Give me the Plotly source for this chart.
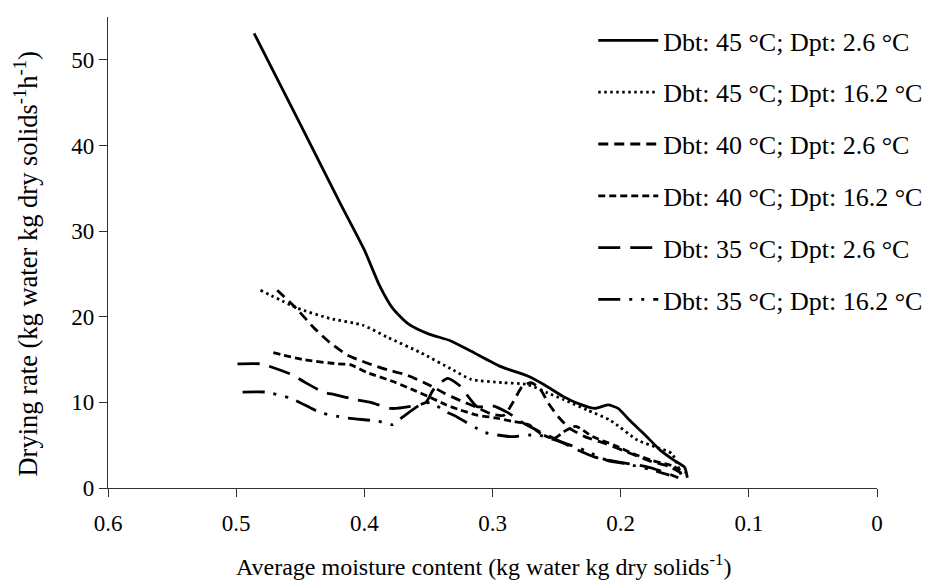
import plotly.graph_objects as go

# ---- data ----
labels = [
    "Dbt: 45 °C; Dpt: 2.6 °C",
    "Dbt: 45 °C; Dpt: 16.2 °C",
    "Dbt: 40 °C; Dpt: 2.6 °C",
    "Dbt: 40 °C; Dpt: 16.2 °C",
    "Dbt: 35 °C; Dpt: 2.6 °C",
    "Dbt: 35 °C; Dpt: 16.2 °C",
]

s1_x = [0.486, 0.450, 0.419, 0.400, 0.388, 0.378, 0.366, 0.350, 0.333, 0.317, 0.294, 0.273, 0.259, 0.245,
        0.232, 0.220, 0.210, 0.202, 0.193, 0.181, 0.169, 0.158, 0.150, 0.148]
s1_y = [53.1, 42.5, 33.3, 27.8, 23.6, 21.0, 19.2, 18.0, 17.2, 16.0, 14.2, 13.1, 12.0, 10.7,
        9.8, 9.3, 9.7, 9.3, 7.9, 6.2, 4.4, 3.2, 2.4, 1.2]

s2_x = [0.481, 0.452, 0.427, 0.401, 0.382, 0.356, 0.331, 0.317, 0.292, 0.273, 0.257, 0.244, 0.226,
        0.208, 0.187, 0.173, 0.160, 0.152]
s2_y = [23.1, 21.0, 19.8, 19.0, 17.6, 15.8, 13.8, 12.7, 12.3, 12.1, 11.1, 10.3, 9.1,
        7.9, 5.6, 4.8, 4.0, 1.2]

s3_x = [0.468, 0.452, 0.440, 0.427, 0.413, 0.398, 0.382, 0.367, 0.349, 0.338, 0.325, 0.312, 0.300,
        0.291, 0.284, 0.277, 0.270, 0.263, 0.256, 0.248, 0.240, 0.228, 0.212, 0.195, 0.178, 0.162, 0.150]
s3_y = [23.1, 20.8, 18.8, 17.0, 15.5, 14.6, 13.8, 13.2, 12.0, 11.1, 10.2, 9.4, 8.6,
        8.5, 10.0, 11.8, 12.3, 11.6, 9.8, 8.2, 7.0, 6.0, 5.2, 4.2, 3.2, 2.5, 1.5]

s4_x = [0.471, 0.448, 0.421, 0.411, 0.398, 0.377, 0.361, 0.349, 0.336, 0.325, 0.312, 0.298, 0.285,
        0.272, 0.262, 0.252, 0.243, 0.235, 0.222, 0.205, 0.190, 0.175, 0.160, 0.150]
s4_y = [15.8, 15.0, 14.5, 14.4, 13.5, 12.4, 11.4, 10.6, 9.7, 9.1, 8.5, 8.2, 7.8,
        7.4, 6.3, 5.8, 6.7, 7.2, 6.0, 5.0, 4.0, 3.2, 2.6, 1.8]

s5_x = [0.499, 0.481, 0.472, 0.456, 0.447, 0.432, 0.423, 0.406, 0.395, 0.380, 0.365, 0.352, 0.346,
        0.335, 0.326, 0.318, 0.312, 0.300, 0.288, 0.275, 0.262, 0.248, 0.236, 0.220, 0.200, 0.180, 0.165, 0.155]
s5_y = [14.5, 14.5, 14.1, 13.2, 12.4, 11.2, 10.9, 10.3, 10.0, 9.3, 9.5, 10.0, 11.5,
        12.8, 12.0, 10.5, 9.5, 9.6, 8.8, 7.5, 6.5, 5.5, 4.6, 3.6, 3.0, 2.5, 1.8, 1.2]

s6_x = [0.495, 0.477, 0.458, 0.434, 0.415, 0.389, 0.378, 0.370, 0.354, 0.346, 0.339, 0.329, 0.306,
        0.286, 0.265, 0.245, 0.228, 0.210, 0.195, 0.178, 0.162]
s6_y = [11.2, 11.2, 10.5, 8.8, 8.2, 7.8, 7.4, 8.3, 9.9, 9.9, 9.1, 8.4, 6.5,
        6.0, 6.2, 5.3, 4.4, 3.2, 2.8, 2.2, 1.5]

x_tickvals = [0.6, 0.5, 0.4, 0.3, 0.2, 0.1, 0.0]
x_ticktext = ["0.6", "0.5", "0.4", "0.3", "0.2", "0.1", "0"]
y_tickvals = [0, 10, 20, 30, 40, 50]
y_ticktext = ["0", "10", "20", "30", "40", "50"]

x_title = "Average moisture content (kg water kg dry solids<sup>-1</sup>)"
y_title = "Drying rate (kg water kg dry solids<sup>-1</sup>h<sup>-1</sup>)"

# ---- styling ----
FONT = "Liberation Serif, Times New Roman, serif"
series = [
    (s1_x, s1_y, "solid", 2.8),
    (s2_x, s2_y, "2.5px,3.5px", 2.8),
    (s3_x, s3_y, "10px,6px", 2.8),
    (s4_x, s4_y, "7px,4px", 2.8),
    (s5_x, s5_y, "22px,10px", 2.8),
    (s6_x, s6_y, "22px,9px,3px,9px,3px,9px", 2.8),
]

fig = go.Figure()
for i, (xs, ys, dash, w) in enumerate(series):
    fig.add_trace(go.Scatter(
        x=xs, y=ys, mode="lines", name=labels[i], legendgroup=f"g{i}",
        line=dict(color="black", width=w, dash=dash, shape="spline", smoothing=0.6),
    ))

# page body adds an 8px margin, so the figure is laid out 8px smaller
fig.update_layout(
    width=929, height=573,
    margin=dict(l=100, r=60, t=9, b=93),
    paper_bgcolor="white", plot_bgcolor="white",
    font=dict(family=FONT, size=23, color="black"),
    showlegend=True,
    legend=dict(
        x=0.631, y=1.0, xanchor="left", yanchor="top",
        bgcolor="rgba(0,0,0,0)", font=dict(family=FONT, size=26, color="black"),
        tracegroupgap=15, itemwidth=60, maxheight=1,
    ),
    xaxis=dict(
        range=[0.6, 0.0], autorange=False,
        tickvals=x_tickvals, ticktext=x_ticktext,
        showgrid=False, zeroline=False,
        showline=True, linecolor="#333", linewidth=1.2,
        ticks="outside", ticklen=8, tickcolor="#333",
        ticklabelstandoff=6,
        tickfont=dict(family=FONT, size=23, color="black"),
        automargin=False,
    ),
    yaxis=dict(
        range=[0, 55], autorange=False,
        tickvals=y_tickvals, ticktext=y_ticktext,
        showgrid=False, zeroline=False,
        showline=True, linecolor="#333", linewidth=1.2,
        ticks="outside", ticklen=8, tickcolor="#333",
        tickfont=dict(family=FONT, size=23, color="black"),
        automargin=False,
    ),
    annotations=[
        dict(text=x_title, xref="paper", yref="paper", x=0.488, y=-0.1635,
             xanchor="center", yanchor="middle", showarrow=False,
             font=dict(family=FONT, size=24, color="black")),
        dict(text=y_title, xref="paper", yref="paper", x=-0.107, y=0.476,
             xanchor="center", yanchor="middle", showarrow=False, textangle=-90,
             font=dict(family=FONT, size=26.5, color="black")),
    ],
)

fig.write_html("out.html")
